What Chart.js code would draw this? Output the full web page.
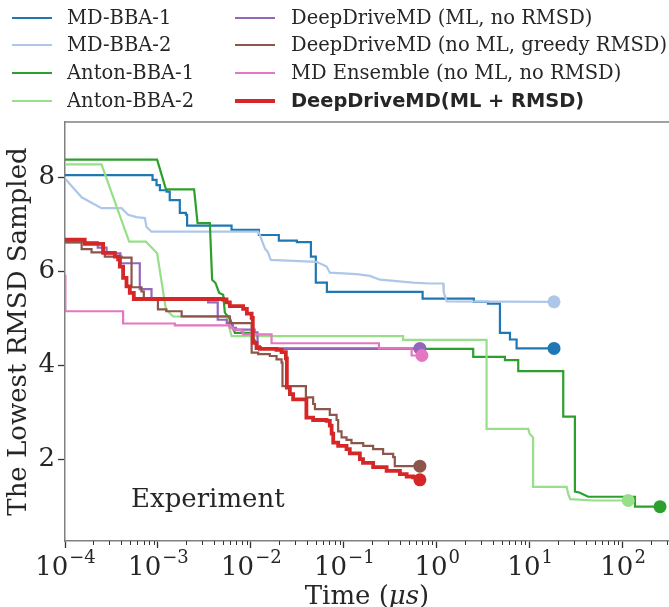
<!DOCTYPE html>
<html>
<head>
<meta charset="utf-8">
<script src="https://cdn.jsdelivr.net/npm/chart.js@4.4.1/dist/chart.umd.min.js"></script>
<style>
  html, body { margin: 0; padding: 0; background: #fff; }
  #wrap { width: 669px; height: 607px; position: relative; }
</style>
</head>
<body>
<div id="wrap"><canvas id="rmsdChart"></canvas></div>
<script>
// time in microseconds, lowest RMSD so far
const mdBba1Time = [1e-4, 8.75e-4, 9.66e-4, 1.05e-3, 1.24e-3, 1.34e-3, 1.72e-3, 2.0e-3, 2.06e-3, 6.2e-3, 1.22e-2, 2.0e-2, 3.13e-2, 4.43e-2, 5.0e-2, 6.58e-2, 0.705, 2.51, 3.56, 4.79, 6.14, 7.24, 18.3];
const mdBba1Rmsd = [8.04, 7.94, 7.83, 7.72, 7.69, 7.51, 7.24, 7.2, 6.97, 6.88, 6.77, 6.65, 6.62, 6.31, 5.76, 5.56, 5.42, 5.35, 5.31, 4.69, 4.55, 4.36, 4.36];

const mdBba2Time = [1e-4, 1.51e-4, 2.47e-4, 4.06e-4, 4.78e-4, 5.88e-4, 7.23e-4, 7.53e-4, 8.53e-4, 1.2e-2, 1.25e-2, 1.31e-2, 1.42e-2, 1.52e-2, 1.64e-2, 5.09e-2, 6.53e-2, 7.08e-2, 0.137, 0.191, 0.245, 0.558, 0.845, 1.175, 1.19, 1.28, 18.3];
const mdBba2Rmsd = [7.97, 7.57, 7.34, 7.34, 7.2, 7.15, 7.13, 6.94, 6.84, 6.84, 6.77, 6.66, 6.48, 6.41, 6.24, 6.2, 6.1, 5.97, 5.94, 5.9, 5.82, 5.76, 5.74, 5.74, 5.55, 5.36, 5.35];

const anton1Time = [1e-4, 9.8e-4, 1.22e-3, 2.45e-3, 2.67e-3, 3.62e-3, 3.83e-3, 4.17e-3, 4.56e-3, 5.04e-3, 5.25e-3, 6.05e-3, 6.44e-3, 6.73e-3, 9.75e-3, 1.05e-2, 1.2e-2, 1.25e-2, 2.47, 2.47, 5.42, 5.42, 7.54, 7.54, 23.0, 23.0, 30.7, 30.7, 34.2, 42.7, 136, 136, 253];
const anton1Rmsd = [8.37, 8.37, 7.74, 7.74, 7.02, 7.02, 5.82, 5.75, 5.54, 5.5, 5.12, 4.97, 4.8, 4.69, 4.69, 4.6, 4.41, 4.35, 4.35, 4.18, 4.18, 4.11, 4.11, 3.88, 3.88, 2.91, 2.91, 1.32, 1.3, 1.21, 1.21, 1.0, 1.0];

const anton2Time = [1e-4, 2.47e-4, 4.9e-4, 7.41e-4, 9.8e-4, 1.22e-3, 1.46e-3, 5.47e-3, 6.2e-3, 0.435, 0.435, 3.44, 3.44, 9.66, 10.0, 10.9, 10.9, 25.0, 26.0, 27.3, 48.4, 115];
const anton2Rmsd = [8.27, 8.27, 6.63, 6.63, 6.38, 5.19, 5.04, 5.03, 4.62, 4.62, 4.54, 4.54, 2.65, 2.65, 2.55, 2.47, 1.42, 1.42, 1.27, 1.16, 1.13, 1.13];

const ddmdNoRmsdTime = [1e-4, 2.25e-4, 2.8e-4, 3.95e-4, 6.38e-4, 8.53e-4, 3.47e-3, 4.4e-3, 5.5e-3, 6.4e-3, 6.9e-3, 1.1e-2, 1.18e-2, 1.25e-2, 0.659];
const ddmdNoRmsdRmsd = [6.62, 6.5, 6.38, 6.17, 5.62, 5.42, 5.34, 4.97, 4.9, 4.8, 4.76, 4.7, 4.41, 4.36, 4.36];

const ddmdGreedyTime = [1e-4, 1.51e-4, 1.93e-4, 2.68e-4, 4.06e-4, 5.2e-4, 6.66e-4, 7.05e-4, 8.53e-4, 1.0e-3, 1.23e-3, 1.8e-3, 5.94e-3, 1.02e-2, 1.2e-2, 1.6e-2, 1.89e-2, 2.14e-2, 2.19e-2, 3.91e-2, 4.68e-2, 4.89e-2, 7.07e-2, 8.36e-2, 8.7e-2, 9.46e-2, 0.107, 0.121, 0.162, 0.207, 0.265, 0.34, 0.354, 0.659];
const ddmdGreedyRmsd = [6.61, 6.47, 6.4, 6.31, 6.29, 5.66, 5.57, 5.43, 5.4, 5.19, 5.15, 5.04, 4.9, 4.27, 4.24, 4.2, 4.13, 4.06, 3.56, 3.32, 3.18, 3.07, 2.95, 2.84, 2.6, 2.47, 2.42, 2.35, 2.29, 2.22, 2.12, 2.05, 1.86, 1.86];

const ensembleTime = [1e-4, 1.01e-4, 4.22e-4, 1.52e-3, 5.94e-3, 6.4e-3, 7.94e-3, 8.26e-3, 1.67e-2, 0.239, 0.537, 0.693];
const ensembleRmsd = [5.9, 5.15, 4.89, 4.85, 4.8, 4.76, 4.72, 4.66, 4.47, 4.36, 4.21, 4.21];

const ddmdTime = [1e-4, 1.63e-4, 2.57e-4, 3.44e-4, 3.73e-4, 3.89e-4, 4.22e-4, 4.59e-4, 4.98e-4, 5.5e-4, 5.04e-3, 5.47e-3, 5.94e-3, 8.26e-3, 9.06e-3, 1.02e-2, 1.05e-2, 1.15e-2, 1.25e-2, 1.89e-2, 2.14e-2, 2.38e-2, 2.44e-2, 2.63e-2, 2.85e-2, 3.96e-2, 4.68e-2, 6.53e-2, 7.07e-2, 7.4e-2, 7.7e-2, 8.7e-2, 0.107, 0.116, 0.149, 0.161, 0.207, 0.289, 0.402, 0.475, 0.558, 0.659];
const ddmdRmsd = [6.67, 6.58, 6.39, 6.31, 6.25, 6.1, 5.86, 5.68, 5.54, 5.41, 5.4, 5.34, 5.26, 5.2, 5.1, 5.01, 4.48, 4.37, 4.35, 4.33, 4.28, 4.15, 3.53, 3.39, 3.28, 2.89, 2.84, 2.82, 2.72, 2.55, 2.36, 2.29, 2.22, 2.13, 2.01, 1.93, 1.84, 1.76, 1.69, 1.64, 1.62, 1.57];

const xTickPowers = [-4, -3, -2, -1, 0, 1, 2];
const yTicks = [2, 4, 6, 8];

const serif = "'DejaVu Serif', 'Liberation Serif', serif";
const textColor = '#262626';
const spineColor = '#808080';

// 'before' in Chart.js: hold the previous value, then drop at the new time
const seriesList = [
  { label: 'MD-BBA-1', t: mdBba1Time, v: mdBba1Rmsd, color: '#1f77b4', stepped: 'before', width: 2.2 },
  { label: 'MD-BBA-2', t: mdBba2Time, v: mdBba2Rmsd, color: '#aec7e8', stepped: false, width: 2.2 },
  { label: 'Anton-BBA-1', t: anton1Time, v: anton1Rmsd, color: '#2ca02c', stepped: false, width: 2.2 },
  { label: 'Anton-BBA-2', t: anton2Time, v: anton2Rmsd, color: '#98df8a', stepped: false, width: 2.2 },
  { label: 'DeepDriveMD (ML, no RMSD)', t: ddmdNoRmsdTime, v: ddmdNoRmsdRmsd, color: '#9467bd', stepped: 'before', width: 2.2 },
  { label: 'DeepDriveMD (no ML, greedy RMSD)', t: ddmdGreedyTime, v: ddmdGreedyRmsd, color: '#8c564b', stepped: 'before', width: 2.2 },
  { label: 'MD Ensemble (no ML, no RMSD)', t: ensembleTime, v: ensembleRmsd, color: '#e377c2', stepped: 'before', width: 2.2 },
  { label: 'DeepDriveMD(ML + RMSD)', t: ddmdTime, v: ddmdRmsd, color: '#d62728', stepped: 'before', width: 3.8 }
];

const datasets = seriesList.map((s, i) => ({
  label: s.label,
  data: s.t.map((t, k) => ({ x: t, y: s.v[k] })),
  borderColor: s.color,
  backgroundColor: s.color,
  borderWidth: s.width,
  stepped: s.stepped,
  fill: false,
  pointRadius: ctx => ctx.dataIndex === s.t.length - 1 ? 6.5 : 0,
  pointHoverRadius: 0,
  pointBorderWidth: 0,
  order: seriesList.length - i
}));

// legend, top spine, minor ticks, power-of-ten labels, x title, annotation
const extras = {
  id: 'extras',
  afterDraw(chart) {
    const ctx = chart.ctx;
    const area = chart.chartArea;
    const x = chart.scales.x;
    ctx.save();

    ctx.strokeStyle = spineColor;
    ctx.lineWidth = 1.5;
    ctx.beginPath();
    ctx.moveTo(area.left, area.top);
    ctx.lineTo(area.right, area.top);
    ctx.stroke();

    ctx.strokeStyle = '#333';
    ctx.lineWidth = 1;
    for (let p = -4; p <= 2; p++) {
      for (let m = 2; m <= 9; m++) {
        const v = m * Math.pow(10, p);
        if (v > x.max) continue;
        const px = Math.round(x.getPixelForValue(v)) + 0.5;
        ctx.beginPath();
        ctx.moveTo(px, area.bottom);
        ctx.lineTo(px, area.bottom + 4);
        ctx.stroke();
      }
    }

    ctx.fillStyle = textColor;
    ctx.textBaseline = 'alphabetic';
    ctx.textAlign = 'left';
    xTickPowers.forEach(p => {
      const px = x.getPixelForValue(Math.pow(10, p));
      const sup = (p < 0 ? '\u2212' : '') + Math.abs(p);
      ctx.font = '26px ' + serif;
      const wb = ctx.measureText('10').width;
      ctx.font = '18px ' + serif;
      const ws = ctx.measureText(sup).width;
      const start = px - (wb + ws) / 2;
      ctx.font = '26px ' + serif;
      ctx.fillText('10', start, 575);
      ctx.font = '18px ' + serif;
      ctx.fillText(sup, start + wb + 1, 563);
    });

    const partA = 'Time (', partB = '\u03bcs', partC = ')';
    ctx.font = '26px ' + serif;
    const wa = ctx.measureText(partA).width, wc = ctx.measureText(partC).width;
    ctx.font = 'italic 26px ' + serif;
    const wbb = ctx.measureText(partB).width;
    let tx = (area.left + area.right) / 2 - (wa + wbb + wc) / 2;
    ctx.font = '26px ' + serif;
    ctx.fillText(partA, tx, 604);
    ctx.font = 'italic 26px ' + serif;
    ctx.fillText(partB, tx + wa, 604);
    ctx.font = '26px ' + serif;
    ctx.fillText(partC, tx + wa + wbb, 604);

    ctx.font = '26px ' + serif;
    ctx.fillText('Experiment', area.left + 66, 507);

    const colLine = [12, 235], colText = [67, 291], rowY = [18, 45, 73, 101];
    chart.data.datasets.forEach((ds, i) => {
      const col = Math.floor(i / 4), row = i % 4;
      const y = rowY[row];
      ctx.strokeStyle = ds.borderColor;
      ctx.lineWidth = ds.borderWidth;
      ctx.beginPath();
      ctx.moveTo(colLine[col], y);
      ctx.lineTo(colLine[col] + 40, y);
      ctx.stroke();
      ctx.fillStyle = textColor;
      ctx.textBaseline = 'middle';
      ctx.font = i === 7 ? "bold 19.4px 'DejaVu Sans', sans-serif" : '19.5px ' + serif;
      ctx.fillText(ds.label, colText[col], y + 1);
    });
    ctx.restore();
  }
};

new Chart(document.getElementById('rmsdChart'), {
  type: 'line',
  data: { datasets: datasets },
  options: {
    responsive: true,
    maintainAspectRatio: false,
    animation: false,
    layout: { autoPadding: false, padding: { top: 122, left: 0, right: 0, bottom: 0 } },
    plugins: { legend: { display: false }, tooltip: { enabled: false } },
    scales: {
      x: {
        type: 'logarithmic',
        min: 1e-4,
        max: 316,
        afterBuildTicks: s => { s.ticks = xTickPowers.map(p => ({ value: Math.pow(10, p), major: true })); },
        afterFit: s => { s.height = 66; },
        ticks: { display: false },
        grid: { drawOnChartArea: false, drawTicks: true, tickLength: 7, tickColor: '#333', tickWidth: 1.3 },
        border: { display: true, color: spineColor, width: 1.5 }
      },
      y: {
        min: 0.27,
        max: 9.17,
        afterBuildTicks: s => { s.ticks = yTicks.map(v => ({ value: v })); },
        afterFit: s => { s.width = 65; },
        ticks: { font: { family: serif, size: 26 }, color: textColor, padding: 3 },
        grid: { drawOnChartArea: false, drawTicks: true, tickLength: 7, tickColor: '#333', tickWidth: 1.3 },
        border: { display: true, color: spineColor, width: 1.5 },
        title: { display: true, text: 'The Lowest RMSD Sampled', font: { family: serif, size: 26 }, color: textColor, padding: { top: 4, bottom: 0 } }
      }
    }
  },
  plugins: [extras]
});
</script>
</body>
</html>
